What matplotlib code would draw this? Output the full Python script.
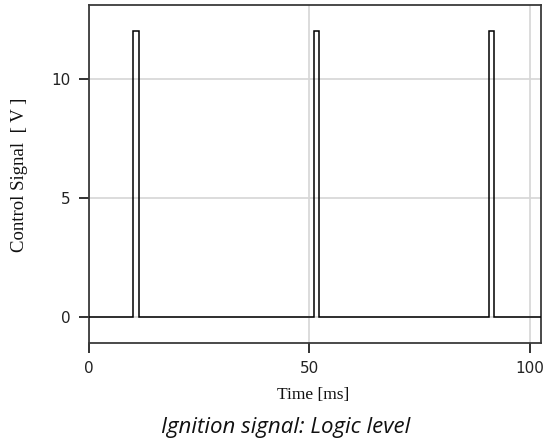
import matplotlib
matplotlib.use("Agg")
import matplotlib.pyplot as plt

plt.rcParams["font.family"] = ["DejaVu Sans"]

# Data: ignition control signal (step waveform)
time_ms = [0, 10.0, 10.0, 11.3, 11.3, 51.0, 51.0, 52.3, 52.3, 90.8, 90.8, 92.0, 92.0, 102.6]
signal_v = [0, 0, 12, 12, 0, 0, 12, 12, 0, 0, 12, 12, 0, 0]
x_ticks = [0, 50, 100]
y_ticks = [0, 5, 10]
x_label = "Time [ms]"
y_label = "Control Signal  [ V ]"
caption = "Ignition signal: Logic level"

W, H = 549, 444
fig = plt.figure(figsize=(W / 100, H / 100), dpi=100)
fig.patch.set_facecolor("white")

L, R, T, B = 89, 541, 5, 343
ax = fig.add_axes([L / W, 1 - B / H, (R - L) / W, (B - T) / H])

ax.plot(time_ms, signal_v, color="black", lw=1.1, solid_joinstyle="miter", zorder=3)

ax.set_xlim(0, 102.6)
ax.set_ylim(-1.1, 13.1)
ax.set_xticks(x_ticks)
ax.set_yticks(y_ticks)
ax.grid(True, color="#d6d6d6", lw=1.2, zorder=0)
ax.set_axisbelow(True)

for s in ax.spines.values():
    s.set_color("#3a3a3a")
    s.set_linewidth(1.3)

ax.tick_params(direction="out", length=7.2, width=1.3, color="#222222",
               labelsize=11, pad=6, labelcolor="#222222",
               labelfontfamily="DejaVu Sans")

fig.text(313 / W, 1 - 395 / H, x_label, ha="center", va="center",
         family="Liberation Serif", fontsize=12.5, color="#111111")
fig.text(20 / W, 1 - 175 / H, y_label, ha="center", va="center", rotation=90,
         family="Liberation Serif", fontsize=13.5, color="#111111")
fig.text(286 / W, 1 - 427 / H, caption, ha="center", va="center",
         family="Open Sans", style="italic", fontsize=16, color="#111111")

fig.savefig("out.png", dpi=100)
